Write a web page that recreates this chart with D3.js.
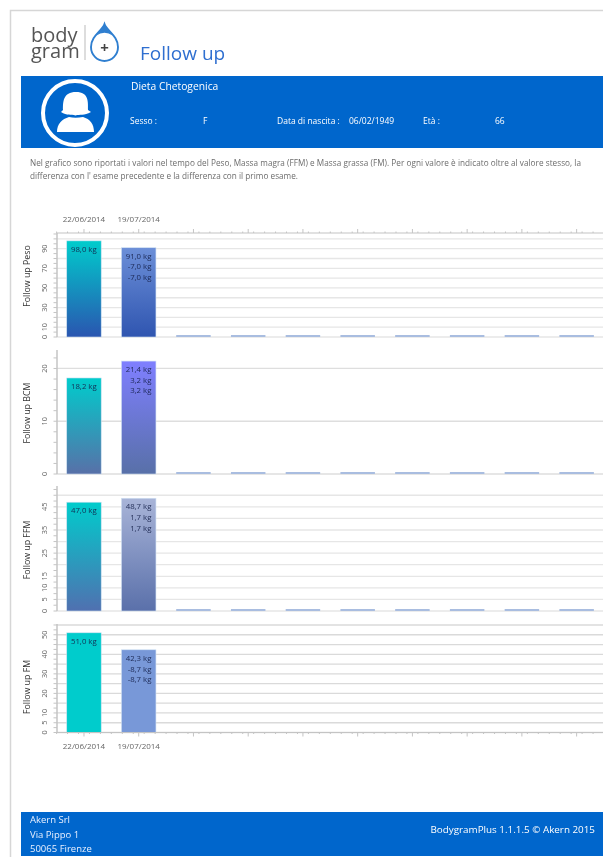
<!DOCTYPE html>
<html><head><meta charset="utf-8">
<script src="https://cdn.jsdelivr.net/npm/d3@7/dist/d3.min.js"></script>
<style>
html,body{margin:0;padding:0;background:#fff;overflow:hidden}
svg{display:block;filter:blur(0.6px)}
text{font-family:"Open Sans","Noto Sans",sans-serif}
</style></head><body>
<svg id="c" width="603" height="857"></svg>
<script>
// ---------- data ----------
const dateLabels = ["22/06/2014","19/07/2014","","","","","","","",""];
const panelTitles = ["Follow up Peso","Follow up BCM","Follow up FFM","Follow up FM"];
const pesoValues = [98.0,91.0,0,0,0,0,0,0,0,0];
const bcmValues  = [18.2,21.4,0,0,0,0,0,0,0,0];
const ffmValues  = [47.0,48.7,0,0,0,0,0,0,0,0];
const fmValues   = [51.0,42.3];
const pesoLabels = [["98,0 kg"],["91,0 kg","-7,0 kg","-7,0 kg"]];
const bcmLabels  = [["18,2 kg"],["21,4 kg","3,2 kg","3,2 kg"]];
const ffmLabels  = [["47,0 kg"],["48,7 kg","1,7 kg","1,7 kg"]];
const fmLabels   = [["51,0 kg"],["42,3 kg","-8,7 kg","-8,7 kg"]];
const pesoTickLabels = [0,10,30,50,70,90];
const bcmTickLabels  = [0,10,20];
const ffmTickLabels  = [0,5,10,15,25,35,45];
const fmTickLabels   = [0,5,10,20,30,40,50];
const pesoGrid = d3.range(0,101,10);
const bcmGrid  = [0,10,20];
const ffmGrid  = d3.range(0,51,5);
const fmGrid   = d3.range(0,56,5);
const domainMax = [106, 23.5, 54, 55.5];
const pixelRows = [[337,233],[474,350],[611,486],[732.5,624]];
const gridColors = ["#e6e6e6","#dedede","#e6e6e6","#dadada"];
const firstColors = [["#00cccc","#2a55b0"],["#00cccc","#5870a8"],["#00cccc","#5070b0"],["#00cccc","#00cccc"]];
const secondColors = [["#6c8fd8","#2f55b0"],["#7f7fff","#5870a8"],["#a8b4d8","#5a70aa"],["#7898d8","#7898d8"]];
const headerRow = [["Sesso :",130],["F",203],["Data di nascita :",277],["06/02/1949",349],["Età :",423],["66",495]];
const noteLines = ["Nel grafico sono riportati i valori nel tempo del Peso, Massa magra (FFM) e Massa grassa (FM). Per ogni valore è indicato oltre al valore stesso, la",
 "differenza con l' esame precedente e la differenza con il primo esame."];
const noteWidths = [551,268];
const footerLines = ["Akern Srl","Via Pippo 1","50065 Firenze"];

const svg = d3.select("#c");
const defs = svg.append("defs");
const blue = "#0066cc";

// page frame
svg.append("path").attr("d","M10.5 857V10.5H603").attr("fill","none").attr("stroke","#d6d6d6").attr("stroke-width",1.5);

// logo
const logo = svg.append("g");
const logoText = logo.append("text").attr("font-size",20).attr("fill","#555");
logoText.append("tspan").attr("x",31).attr("y",42).text("body");
logoText.append("tspan").attr("x",31).attr("y",58).text("gram");
logo.append("line").attr("x1",85).attr("x2",85).attr("y1",25).attr("y2",60).attr("stroke","#bbb");
logo.append("path").attr("d","M104.5 24 C102 31 91 36 91 47 a13.5 14 0 0 0 27 0 C118 36 107 31 104.5 24Z").attr("fill","none").attr("stroke","#2f7fd0").attr("stroke-width",1.9);
logo.append("path").attr("d","M104.5 24 C103 28 99 32 96.5 35.5 a13 13 0 0 1 16 0 C110 32 106 28 104.5 24Z").attr("fill","#2f7fd0");
logo.append("text").attr("x",104.5).attr("y",52.5).attr("text-anchor","middle").attr("font-size",15).attr("font-weight",700).attr("fill","#444").text("+");
svg.append("text").attr("x",140).attr("y",60).attr("font-size",19).attr("fill","#2f6fd0").text("Follow up");

// header band
svg.append("rect").attr("x",21).attr("y",76).attr("width",582).attr("height",72).attr("fill",blue);
svg.append("circle").attr("cx",75).attr("cy",113).attr("r",32).attr("fill","none").attr("stroke","#fff").attr("stroke-width",4);
svg.append("path").attr("d","M63 110 C63 102 63 92 76 92 C89 92 88 102 88 110 L91 112 C84 116 80 114 75.5 115.500 C71 114 67 116 61 112Z").attr("fill","#fff");
svg.append("path").attr("d","M57 132 C57 124 62 119 69 117 C73 118 78 118 83 117 C90 119 94 124 94 132Z").attr("fill","#fff");
svg.append("text").attr("x",131).attr("y",89.500).attr("font-size",10.300).attr("fill","#fff").text("Dieta Chetogenica");
svg.selectAll(".hdr").data(headerRow).join("text").attr("class","hdr")
  .attr("x",d=>d[1]).attr("y",124).attr("font-size",8.500).attr("fill","#fff").text(d=>d[0]);
svg.selectAll(".note").data(noteLines).join("text").attr("class","note")
  .attr("x",30).attr("y",(d,i)=>166+i*13).attr("font-size",8.200).attr("fill","#6c6c6c")
  .attr("textLength",(d,i)=>noteWidths[i]).text(d=>d);

// footer
svg.append("rect").attr("x",21).attr("y",812).attr("width",582).attr("height",44).attr("fill",blue);
svg.selectAll(".ft").data(footerLines).join("text").attr("class","ft")
  .attr("x",30).attr("y",(d,i)=>823+i*14.500).attr("font-size",9.500).attr("fill","#e8f0ff").text(d=>d);
svg.append("text").attr("x",595).attr("y",833).attr("text-anchor","end").attr("font-size",9.850).attr("fill","#fff").text("BodygramPlus 1.1.1.5 © Akern 2015");

// charts
const x = d3.scaleBand().domain(d3.range(dateLabels.length)).range([56.6,604]).paddingInner(0.37).paddingOuter(0.185);
const xMinor = d3.scaleLinear().domain([-0.5,9.5]).range([56.6,604]);
const allValues = [pesoValues,bcmValues,ffmValues,fmValues];
const allLabels = [pesoLabels,bcmLabels,ffmLabels,fmLabels];
const allTicks = [pesoTickLabels,bcmTickLabels,ffmTickLabels,fmTickLabels];
const allGrids = [pesoGrid,bcmGrid,ffmGrid,fmGrid];
const minorStep = [5,2,2.5,2.5];
const axisColor = "#c4c4c4";

panelTitles.forEach((title,p)=>{
  const [bottom,top] = pixelRows[p];
  const y = d3.scaleLinear().domain([0,domainMax[p]]).range([bottom,top]);
  const g = svg.append("g");

  // grid
  g.selectAll(".g").data(allGrids[p]).join("line")
    .attr("x1",57).attr("x2",603).attr("y1",d=>y(d)).attr("y2",d=>y(d))
    .attr("stroke",gridColors[p]).attr("stroke-width",1.300);

  // y axis: minor and labelled ticks
  g.selectAll(".m").data(d3.range(0,domainMax[p],minorStep[p])).join("line")
    .attr("x1",53.500).attr("x2",57).attr("y1",d=>y(d)).attr("y2",d=>y(d)).attr("stroke",axisColor);
  g.append("line").attr("x1",57).attr("x2",57).attr("y1",top).attr("y2",bottom).attr("stroke",axisColor).attr("stroke-width",1.500);
  g.selectAll(".yl").data(allTicks[p]).join("text")
    .attr("transform",d=>`translate(47,${y(d)}) rotate(-90)`)
    .attr("text-anchor","middle").attr("font-size",7.300).attr("fill","#666").text(d=>d);
  g.append("text").attr("transform",`translate(30,${[276,413,550,687][p]}) rotate(-90)`)
    .attr("text-anchor","middle").attr("font-size",8.800).attr("fill","#333").text(title);

  // bars
  const vals = allValues[p];
  const colors = [firstColors[p],secondColors[p]];
  colors.forEach((c,i)=>{
    const lg = defs.append("linearGradient").attr("id",`g${p}_${i}`).attr("x1",0).attr("x2",0).attr("y1",0).attr("y2",1);
    lg.append("stop").attr("offset",0).attr("stop-color",c[0]);
    lg.append("stop").attr("offset",1).attr("stop-color",c[1]);
  });
  const idx = d3.range(vals.length);
  g.selectAll(".b").data(idx).join("rect")
    .attr("x",i=>x(i)).attr("width",x.bandwidth())
    .attr("y",i=>vals[i]>0?y(vals[i]):bottom-2)
    .attr("height",i=>vals[i]>0?bottom-y(vals[i]):2)
    .attr("fill",i=>vals[i]>0?`url(#g${p}_${i})`:"#a9bde0")
    .attr("stroke",i=>vals[i]>0?"#cfe0f2":"none").attr("stroke-width",0.6);

  // bar labels
  allLabels[p].forEach((lines,i)=>{
    g.selectAll(`.l${i}`).data(lines).join("text")
      .attr("x",x(i)+x.bandwidth()-4.500)
      .attr("y",(d,k)=>y(vals[i])+11+k*10.700)
      .attr("text-anchor","end").attr("font-size",7.800).attr("fill","#141f48").attr("fill-opacity",0.9).text(d=>d);
  });

  // category axis (top of first panel, bottom of last panel)
  if(p===0||p===3){
    const axisY = p===0?top:bottom, dir = p===0?-1:1;
    const tickIdx = d3.range(dateLabels.length);
    g.append("line").attr("x1",57).attr("x2",603).attr("y1",axisY).attr("y2",axisY).attr("stroke",axisColor).attr("stroke-width",1.200);
    g.selectAll(".xm").data(d3.range(-0.5,9.5,0.2)).join("line")
      .attr("x1",d=>xMinor(d)).attr("x2",d=>xMinor(d)).attr("y1",axisY).attr("y2",axisY+dir*1.500).attr("stroke",axisColor);
    g.selectAll(".xt").data(tickIdx).join("line")
      .attr("x1",i=>xMinor(i)).attr("x2",i=>xMinor(i)).attr("y1",axisY).attr("y2",axisY+dir*4).attr("stroke",axisColor);
    g.selectAll(".xl").data(dateLabels.filter(d=>d)).join("text")
      .attr("x",(d,i)=>x(i)+x.bandwidth()/2).attr("y",p===0?222:748.500)
      .attr("text-anchor","middle").attr("font-size",8).attr("fill","#666").text(d=>d);
  }
});
</script>
</body></html>
